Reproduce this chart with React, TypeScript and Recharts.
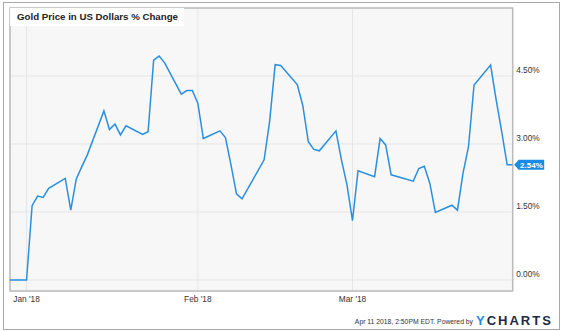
import React from "react";
import {
  LineChart,
  Line,
  XAxis,
  YAxis,
  CartesianGrid,
  ReferenceArea,
  ReferenceDot,
} from "recharts";

// trading dates and gold % change
const dates = [
  "2017-12-29", "2018-01-01", "2018-01-02", "2018-01-03", "2018-01-04", "2018-01-05",
  "2018-01-08", "2018-01-09", "2018-01-10", "2018-01-11", "2018-01-12",
  "2018-01-15", "2018-01-16", "2018-01-17", "2018-01-18", "2018-01-19",
  "2018-01-22", "2018-01-23", "2018-01-24", "2018-01-25", "2018-01-26",
  "2018-01-29", "2018-01-30", "2018-01-31", "2018-02-01", "2018-02-02",
  "2018-02-05", "2018-02-06", "2018-02-07", "2018-02-08", "2018-02-09",
  "2018-02-13", "2018-02-14", "2018-02-15", "2018-02-16",
  "2018-02-19", "2018-02-20", "2018-02-21", "2018-02-22", "2018-02-23",
  "2018-02-26", "2018-02-27", "2018-02-28", "2018-03-01", "2018-03-02",
  "2018-03-05", "2018-03-06", "2018-03-07", "2018-03-08",
  "2018-03-12", "2018-03-13", "2018-03-14", "2018-03-15", "2018-03-16",
  "2018-03-19", "2018-03-20", "2018-03-21", "2018-03-22", "2018-03-23",
  "2018-03-26", "2018-03-27", "2018-03-28", "2018-03-29", "2018-03-30",
];

const pctChange = [
  0, 0, 1.64, 1.85, 1.82, 2.02,
  2.24, 1.54, 2.23, 2.5, 2.76,
  3.73, 3.32, 3.44, 3.2, 3.4,
  3.21, 3.27, 4.85, 4.94, 4.79,
  4.1, 4.18, 4.18, 3.9, 3.12,
  3.29, 3.14, 2.54, 1.9, 1.79,
  2.65, 3.5, 4.75, 4.73,
  4.31, 3.85, 3.05, 2.88, 2.85,
  3.29, 2.65, 2.1, 1.31, 2.41,
  2.28, 3.12, 2.98, 2.32,
  2.18, 2.46, 2.51, 2.13, 1.49,
  1.65, 1.54, 2.35, 2.94, 4.3,
  4.74, 3.98, 3.28, 2.54, 2.54,
];

const xTickDates = ["2018-01-01", "2018-02-01", "2018-03-01"];
const yTicks = [0, 1.5, 3, 4.5];
const MONTHS = ["Jan", "Feb", "Mar", "Apr", "May", "Jun", "Jul", "Aug", "Sep", "Oct", "Nov", "Dec"];

const data = dates.map((d, i) => ({ t: Date.parse(d), v: pctChange[i] }));
const xMin = data[0].t;
const xMax = data[data.length - 1].t;
const yMin = -0.243;
const yMax = 6.0;

const BLUE = "#2a8fdf";
const FONT = "'Liberation Sans', Arial, sans-serif";

function XTick(props: any) {
  const { x, y, payload } = props;
  const d = new Date(payload.value);
  const label = `${MONTHS[d.getUTCMonth()]} '${String(d.getUTCFullYear()).slice(2)}`;
  return (
    <text x={x} y={y} dy={10.7} textAnchor="middle" fontSize={8.3} fill="#333" fontFamily={FONT}>
      {label}
    </text>
  );
}

function YTick(props: any) {
  const { x, y, payload } = props;
  return (
    <text x={x + 3.5} y={y} dy={-3} textAnchor="start" fontSize={8.3} fill="#333" fontFamily={FONT}>
      {payload.value.toFixed(2) + "%"}
    </text>
  );
}

function LastBadge(props: any) {
  const { cx, cy } = props;
  const left = cx + 6;
  const right = cx + 31.5;
  return (
    <g>
      <polygon
        points={`${cx + 1.5},${cy} ${left},${cy - 5} ${right},${cy - 5} ${right},${cy + 5} ${left},${cy + 5}`}
        fill="#1a8be3"
      />
      <text
        x={(left + right) / 2}
        y={cy}
        dy={3}
        textAnchor="middle"
        fontSize={8}
        fontWeight="bold"
        fill="#fff"
        fontFamily={FONT}
      >
        {pctChange[pctChange.length - 1].toFixed(2) + "%"}
      </text>
    </g>
  );
}

export default function App() {
  return (
    <div style={{ position: "absolute", left: 0, top: 0, width: 562, height: 331, background: "#fff" }}>
      <div
        style={{
          position: "absolute",
          left: 3,
          top: 2,
          width: 555,
          height: 326,
          border: "1.5px solid #a8a8a8",
        }}
      />
      <LineChart
        width={562}
        height={331}
        data={data}
        margin={{ top: 8, right: 9.3, bottom: 20, left: 10 }}
        style={{ position: "absolute", left: 0, top: 0 }}
      >
        <CartesianGrid stroke="#e6e6e6" fill="#f7f7f7" fillOpacity={1} />
        <XAxis
          dataKey="t"
          type="number"
          scale="time"
          domain={[xMin, xMax]}
          ticks={xTickDates.map((d) => Date.parse(d))}
          interval={0}
          tick={<XTick />}
          tickLine={false}
          tickSize={0}
          tickMargin={0}
          axisLine={false}
          height={20}
          allowDataOverflow
        />
        <YAxis
          orientation="right"
          type="number"
          domain={[yMin, yMax]}
          ticks={yTicks}
          interval={0}
          tick={<YTick />}
          tickLine={false}
          tickSize={0}
          tickMargin={0}
          axisLine={false}
          width={40}
          allowDataOverflow
        />
        <ReferenceArea
          x1={xMin}
          x2={xMax}
          y1={yMin}
          y2={yMax}
          fill="none"
          stroke="#bcbcbc"
          strokeWidth={1.5}
        />
        <Line
          type="linear"
          dataKey="v"
          stroke={BLUE}
          strokeWidth={1.5}
          dot={false}
          activeDot={false}
          isAnimationActive={false}
        />
        <ReferenceDot
          x={xMax}
          y={pctChange[pctChange.length - 1]}
          shape={<LastBadge />}
          ifOverflow="visible"
        />
      </LineChart>
      <div
        style={{
          position: "absolute",
          left: 10,
          top: 8,
          width: 174,
          height: 18,
          background: "#fff",
          fontFamily: FONT,
          fontWeight: "bold",
          fontSize: 9.7,
          color: "#222",
          lineHeight: "18px",
          paddingLeft: 7,
          boxSizing: "border-box",
          whiteSpace: "nowrap",
        }}
      >
        Gold Price in US Dollars % Change
      </div>
      <svg width={562} height={331} style={{ position: "absolute", left: 0, top: 0, pointerEvents: "none" }}>
        <text x={473} y={324} textAnchor="end" fontSize={6.8} fill="#333" fontFamily={FONT}>
          Apr 11 2018, 2:50PM EDT.  Powered by
        </text>
        <text x={476} y={324.5} fontSize={13} fontWeight="bold" letterSpacing={2} fontFamily={FONT}>
          <tspan fill="#1e8fe6">Y</tspan>
          <tspan fill="#1d2b3e">CHARTS</tspan>
        </text>
      </svg>
    </div>
  );
}
